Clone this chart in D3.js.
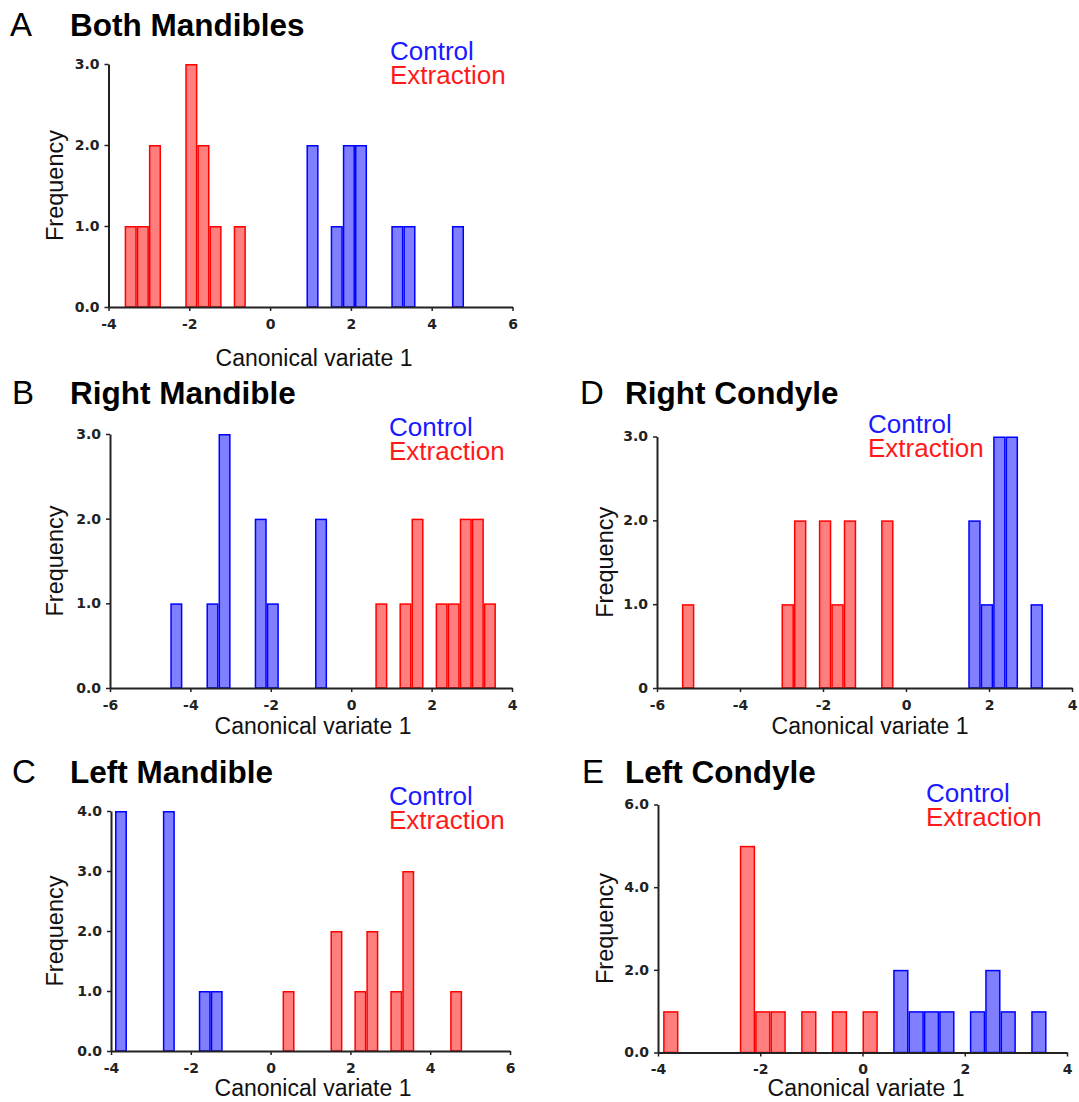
<!DOCTYPE html>
<html><head><meta charset="utf-8">
<script src="https://cdn.jsdelivr.net/npm/d3@7"></script>
<style>
html,body{margin:0;padding:0;background:#fff;}
svg{display:block;}
</style></head>
<body>
<svg id="chart" width="1079" height="1102"></svg>
<script>
// ---- data (bin start on the canonical variate axis, bin width 0.3) ----
const binWidth = 0.3;
const seriesNames = ["Control", "Extraction"];
const xAxisLabel = "Canonical variate 1";
const yAxisLabel = "Frequency";

const panelLetters = ["A", "B", "C", "D", "E"];
const panelTitles = ["Both Mandibles", "Right Mandible", "Left Mandible", "Right Condyle", "Left Condyle"];

// A: Both Mandibles
const aControlBins = [0.9, 1.5, 1.8, 2.1, 3.0, 3.3, 4.5];
const aControlCounts = [2, 1, 2, 2, 1, 1, 1];
const aExtractionBins = [-3.6, -3.3, -3.0, -2.1, -1.8, -1.5, -0.9];
const aExtractionCounts = [1, 1, 2, 3, 2, 1, 1];
const aXTicks = [-4, -2, 0, 2, 4, 6];
const aYTicks = ["0.0", "1.0", "2.0", "3.0"];

// B: Right Mandible
const bControlBins = [-4.5, -3.6, -3.3, -2.4, -2.1, -0.9];
const bControlCounts = [1, 1, 3, 2, 1, 2];
const bExtractionBins = [0.6, 1.2, 1.5, 2.1, 2.4, 2.7, 3.0, 3.3];
const bExtractionCounts = [1, 1, 2, 1, 1, 2, 2, 1];
const bXTicks = [-6, -4, -2, 0, 2, 4];
const bYTicks = ["0.0", "1.0", "2.0", "3.0"];

// C: Left Mandible
const cControlBins = [-3.9, -2.7, -1.8, -1.5];
const cControlCounts = [4, 4, 1, 1];
const cExtractionBins = [0.3, 1.5, 2.1, 2.4, 3.0, 3.3, 4.5];
const cExtractionCounts = [1, 2, 1, 2, 1, 3, 1];
const cXTicks = [-4, -2, 0, 2, 4, 6];
const cYTicks = ["0.0", "1.0", "2.0", "3.0", "4.0"];

// D: Right Condyle
const dControlBins = [1.5, 1.8, 2.1, 2.4, 3.0];
const dControlCounts = [2, 1, 3, 3, 1];
const dExtractionBins = [-5.4, -3.0, -2.7, -2.1, -1.8, -1.5, -0.6];
const dExtractionCounts = [1, 1, 2, 2, 1, 2, 2];
const dXTicks = [-6, -4, -2, 0, 2, 4];
const dYTicks = ["0", "1.0", "2.0", "3.0"];

// E: Left Condyle
const eControlBins = [0.6, 0.9, 1.2, 1.5, 2.1, 2.4, 2.7, 3.3];
const eControlCounts = [2, 1, 1, 1, 1, 2, 1, 1];
const eExtractionBins = [-3.9, -2.4, -2.1, -1.8, -1.2, -0.6, 0.0];
const eExtractionCounts = [1, 5, 1, 1, 1, 1, 1];
const eXTicks = [-4, -2, 0, 2, 4];
const eYTicks = ["0.0", "2.0", "4.0", "6.0"];

// ---- layout (pixels) ----
const layouts = [
  {x0:108.5, x1:512.5, y0:307, y1:64,  letterX:10, titleX:70,  titleY:36,  legX:390, legY:60,  xLabY:366,  yLabX:63,  xLabCx:314},
  {x0:110,   x1:512,   y0:688, y1:434, letterX:12, titleX:70,  titleY:404, legX:389, legY:436, xLabY:734,  yLabX:63,  xLabCx:313},
  {x0:111,   x1:510,   y0:1051,y1:811, letterX:12, titleX:70,  titleY:783, legX:389, legY:805, xLabY:1096, yLabX:63,  xLabCx:313},
  {x0:657,   x1:1072,  y0:688, y1:436.5,letterX:580,titleX:625,titleY:404, legX:868, legY:433, xLabY:734,  yLabX:613, xLabCx:870},
  {x0:658,   x1:1067,  y0:1052.5,y1:804.5,letterX:582,titleX:625,titleY:783,legX:926,legY:802, xLabY:1096, yLabX:613, xLabCx:866}
];

const panels = [
  {ctrl:[aControlBins,aControlCounts], ext:[aExtractionBins,aExtractionCounts], xt:aXTicks, yt:aYTicks},
  {ctrl:[bControlBins,bControlCounts], ext:[bExtractionBins,bExtractionCounts], xt:bXTicks, yt:bYTicks},
  {ctrl:[cControlBins,cControlCounts], ext:[cExtractionBins,cExtractionCounts], xt:cXTicks, yt:cYTicks},
  {ctrl:[dControlBins,dControlCounts], ext:[dExtractionBins,dExtractionCounts], xt:dXTicks, yt:dYTicks},
  {ctrl:[eControlBins,eControlCounts], ext:[eExtractionBins,eExtractionCounts], xt:eXTicks, yt:eYTicks}
];

const colors = {
  Control:{fill:"#7f7fff", stroke:"#0000ff", text:"#1a1aff"},
  Extraction:{fill:"#ff7f7f", stroke:"#ff0000", text:"#ff1a1a"}
};

const svg = d3.select("#chart");
const sans = "'Liberation Sans', Arial, sans-serif";
const tickFont = "'DejaVu Sans', Verdana, sans-serif";

panels.forEach((p, i) => {
  const L = layouts[i];
  const xt = p.xt, yt = p.yt.map(Number);
  const x = d3.scaleLinear().domain([xt[0], xt[xt.length-1]]).range([L.x0, L.x1]);
  const y = d3.scaleLinear().domain([0, yt[yt.length-1]]).range([L.y0, L.y1]);
  const g = svg.append("g");

  // bars
  [["Extraction", p.ext], ["Control", p.ctrl]].forEach(([name, [bins, counts]]) => {
    const data = bins.map((b, k) => ({x0:b, x1:b + binWidth, n:counts[k]}));
    g.selectAll(null).data(data).enter().append("rect")
      .attr("x", d => x(d.x0) + 0.75)
      .attr("width", d => x(d.x1) - x(d.x0) - 1.5)
      .attr("y", d => y(d.n) + 0.75)
      .attr("height", d => y(0) - y(d.n) - 0.75)
      .attr("fill", colors[name].fill)
      .attr("stroke", colors[name].stroke)
      .attr("stroke-width", 1.5);
  });

  // axes
  const xAxis = d3.axisBottom(x).tickValues(xt).tickFormat(d => d < 0 ? "-" + Math.abs(d) : String(d))
    .tickSize(4).tickSizeOuter(0).tickPadding(8);
  const yAxis = d3.axisLeft(y).tickValues(yt).tickFormat((d, k) => p.yt[k]).tickSize(4).tickSizeOuter(0).tickPadding(5);
  const gx = g.append("g").attr("transform", `translate(0,${L.y0})`).call(xAxis);
  const gy = g.append("g").attr("transform", `translate(${L.x0},0)`).call(yAxis);
  [gx, gy].forEach(a => {
    a.attr("font-size", null).attr("font-family", null);
    a.select(".domain").attr("stroke", "#222").attr("stroke-width", 2);
    a.selectAll(".tick line").attr("stroke", "#222").attr("stroke-width", 1.5);
    a.selectAll(".tick text")
      .style("font-family", tickFont).style("font-weight", "bold").style("font-size", "14px")
      .attr("fill", "#222");
  });

  // axis labels
  g.append("text").attr("x", L.xLabCx).attr("y", L.xLabY).attr("text-anchor", "middle")
    .style("font-family", sans).style("font-size", "23px").attr("fill", "#111").text(xAxisLabel);
  g.append("text").attr("transform", `translate(${L.yLabX},${(L.y0 + L.y1) / 2}) rotate(-90)`)
    .attr("text-anchor", "middle").style("font-family", sans).style("font-size", "23.5px")
    .attr("fill", "#111").text(yAxisLabel);

  // titles
  g.append("text").attr("x", L.letterX).attr("y", L.titleY)
    .style("font-family", sans).style("font-size", "33px").attr("fill", "#000").text(panelLetters[i]);
  g.append("text").attr("x", L.titleX).attr("y", L.titleY)
    .style("font-family", sans).style("font-size", "31.5px").style("font-weight", "bold")
    .attr("fill", "#000").text(panelTitles[i]);

  // legend
  seriesNames.forEach((s, k) => {
    g.append("text").attr("x", L.legX).attr("y", L.legY + k * 24)
      .style("font-family", sans).style("font-size", "26px")
      .attr("fill", colors[s].text).text(s);
  });
});
</script>
</body></html>
